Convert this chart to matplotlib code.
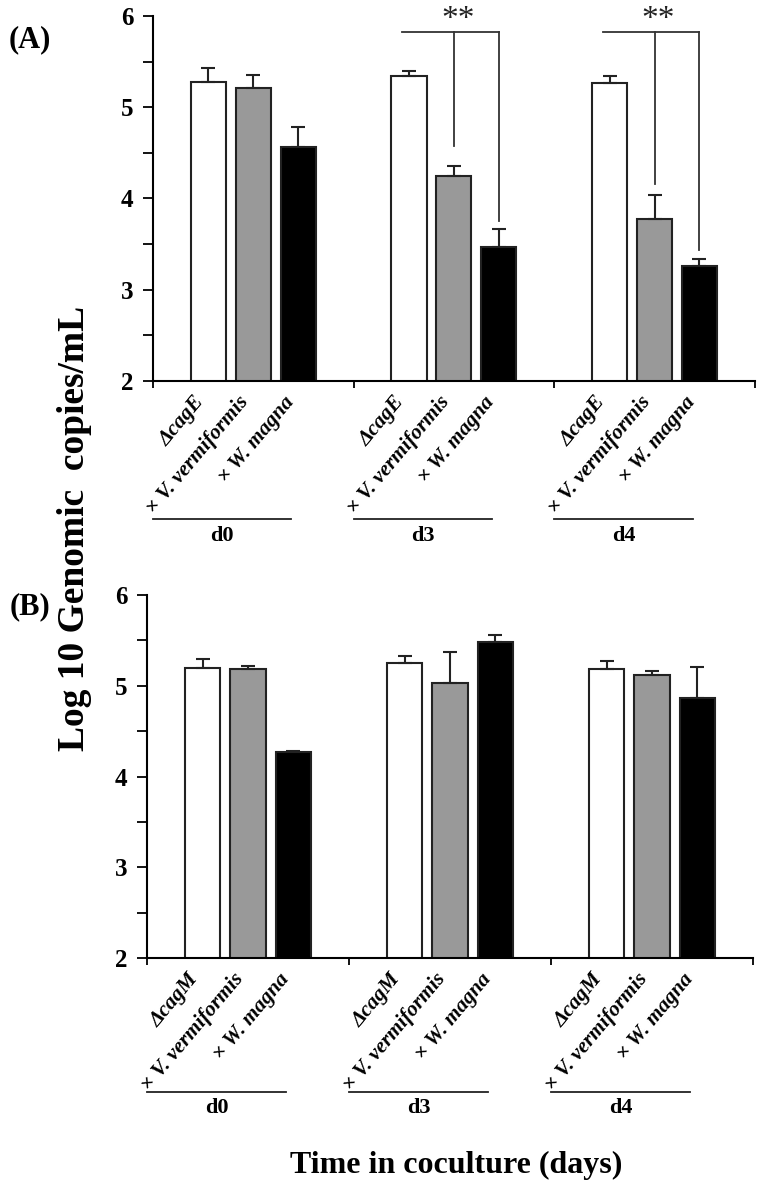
import numpy as np
import matplotlib
matplotlib.use('Agg')
import matplotlib.pyplot as plt

plt.rcParams['font.family'] = ['Liberation Serif', 'DejaVu Serif']
plt.rcParams['font.weight'] = 'bold'

# data (log10 genomic copies/mL, mean and upper SD)
days = ['d0', 'd3', 'd4']
strains_A = ['\u0394cagE', '\u00d7 V. vermiformis', '\u00d7 W. magna']
strains_B = ['\u0394cagM', '\u00d7 V. vermiformis', '\u00d7 W. magna']

A_mut = [5.28, 5.34, 5.27]
A_mut_err = [0.15, 0.06, 0.07]
A_vv = [5.21, 4.245, 3.77]
A_vv_err = [0.14, 0.115, 0.27]
A_wm = [4.56, 3.47, 3.26]
A_wm_err = [0.22, 0.19, 0.08]

B_mut = [5.20, 5.25, 5.19]
B_mut_err = [0.09, 0.08, 0.08]
B_vv = [5.18, 5.03, 5.12]
B_vv_err = [0.04, 0.34, 0.04]
B_wm = [4.27, 5.48, 4.86]
B_wm_err = [0.015, 0.08, 0.35]

# significance brackets in panel A (day index, bracket height, drop ends for vv / wm)
sig_days = [1, 2]
sig_top = [5.82, 5.82]
sig_vv_end = [4.57, 4.16]
sig_wm_end = [3.75, 3.44]

colors = ['white', '#999999', 'black']
offsets = [-0.224, 0.0, 0.224]
width = 0.175


def draw_panel(ax, series, errs, names):
    pos_all = []
    lab_all = []
    for k in range(3):
        x = np.arange(3) + 0.5 + offsets[k]
        ax.bar(x, series[k], width=width, bottom=0, color=colors[k],
               edgecolor='#222222', linewidth=1.5, zorder=2)
        ax.errorbar(x, series[k], yerr=[np.zeros(3), errs[k]], fmt='none',
                    ecolor='#222222', elinewidth=1.5, capsize=5, capthick=1.5, zorder=3)
        pos_all += list(x)
        lab_all += [names[k]] * 3
    ax.set_ylim(2, 6)
    ax.set_xlim(0, 3)
    ax.set_yticks([2, 3, 4, 5, 6])
    ax.set_yticks(np.arange(2.5, 6, 1), minor=True)
    ax.tick_params(axis='y', which='both', direction='out', length=7, width=1.3,
                   labelsize=18, pad=7)
    ax.set_xticks([0, 1, 2, 3])
    ax.set_xticklabels([])
    ax.tick_params(axis='x', which='major', direction='out', length=5, width=1.3)
    ax.set_xticks(pos_all, minor=True)
    ax.set_xticklabels(lab_all, minor=True, rotation=50, ha='right', va='top',
                       fontsize=15.5, fontstyle='italic', fontweight='bold')
    ax.tick_params(axis='x', which='minor', length=0, pad=8)
    for s in ['top', 'right']:
        ax.spines[s].set_visible(False)
    for s in ['left', 'bottom']:
        ax.spines[s].set_linewidth(1.5)
    for lab in ax.get_yticklabels():
        lab.set_fontweight('bold')


def group_lines(ax, yline, ytext):
    tr = ax.get_xaxis_transform()
    for i, d in enumerate(days):
        ax.plot([i, i + 0.69], [yline, yline], color='#222222', lw=1.3,
                transform=tr, clip_on=False)
        ax.text(i + 0.345, ytext, d, transform=tr, ha='center', va='center',
                fontsize=16, fontweight='bold')


fig = plt.figure(figsize=(7.57, 11.82), dpi=100)
axA = fig.add_axes([0.2021, 0.6777, 0.795, 0.3088])
axB = fig.add_axes([0.1942, 0.1895, 0.8005, 0.3071])

draw_panel(axA, [A_mut, A_vv, A_wm], [A_mut_err, A_vv_err, A_wm_err], strains_A)
draw_panel(axB, [B_mut, B_vv, B_wm], [B_mut_err, B_vv_err, B_wm_err], strains_B)
group_lines(axA, -0.378, -0.424)
group_lines(axB, -0.369, -0.412)

for i, d in enumerate(sig_days):
    x0 = d + 0.5 + offsets[0] - 0.035
    xv = d + 0.5 + offsets[1]
    xw = d + 0.5 + offsets[2]
    axA.plot([x0, xw], [sig_top[i], sig_top[i]], color='#333333', lw=1.3, zorder=4)
    axA.plot([xv, xv], [sig_top[i], sig_vv_end[i]], color='#333333', lw=1.3, zorder=4)
    axA.plot([xw, xw], [sig_top[i], sig_wm_end[i]], color='#333333', lw=1.3, zorder=4)
    axA.text(xv + 0.02, 5.96, '**', ha='center', va='center', fontsize=24,
             fontweight='normal', color='#222222')

fig.text(0.04, 0.966, '(A)', ha='center', va='center', fontsize=22, fontweight='bold')
fig.text(0.04, 0.4865, '(B)', ha='center', va='center', fontsize=22, fontweight='bold')
fig.text(0.099, 0.553, 'Log 10 Genomic  copies/mL', rotation=90, ha='center',
         va='center', fontsize=27, fontweight='bold')
fig.text(0.602, 0.0144, 'Time in coculture (days)', ha='center', va='center',
         fontsize=23, fontweight='bold')

fig.savefig('out.png', dpi=100)
